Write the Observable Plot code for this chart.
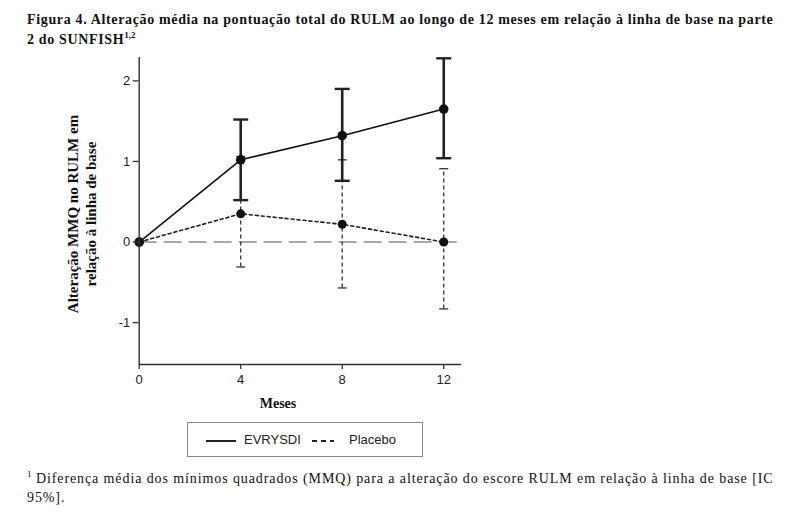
<!DOCTYPE html>
<html>
<head>
<meta charset="utf-8">
<script src="https://cdn.jsdelivr.net/npm/d3@7"></script>
<script src="https://cdn.jsdelivr.net/npm/@observablehq/plot@0.6"></script>
<style>
  html, body { margin: 0; padding: 0; background: #fff; }
  #page { position: relative; width: 799px; height: 513px; overflow: hidden; background: #fff; }
  #title { position: absolute; left: 27px; top: 10px; width: 772px; font: bold 14px "Liberation Serif", "DejaVu Serif", serif; letter-spacing: 0.65px; line-height: 20px; color: #111; white-space: nowrap; }
  #title sup { font-size: 9px; line-height: 0; letter-spacing: 0; }
  #chart { position: absolute; left: 0; top: 50px; }
  #ylabel { position: absolute; left: -48px; top: 196px; width: 260px; text-align: center; font: bold 15px "Liberation Serif", serif; line-height: 18px; color: #111; transform: rotate(-90deg); transform-origin: 50% 50%; white-space: nowrap; }
  #xlabel { position: absolute; left: 238px; top: 396px; width: 80px; text-align: center; font: bold 14px "Liberation Serif", serif; color: #111; }
  #legend { position: absolute; left: 187px; top: 422px; width: 236px; height: 35px; border: 1px solid #888; box-sizing: border-box; font: 13px "Liberation Sans", Arial, sans-serif; color: #222; }
  #legend .item { position: absolute; top: 9px; white-space: nowrap; }
  #legend svg { vertical-align: middle; }
  #foot { position: absolute; left: 27px; top: 469px; width: 772px; font: 14px "Liberation Serif", serif; letter-spacing: 0.9px; line-height: 19px; color: #111; white-space: nowrap; }
  #foot sup { font-size: 9px; line-height: 0; letter-spacing: 0; }
</style>
</head>
<body>
<div id="page">
  <div id="title">Figura 4. Alteração média na pontuação total do RULM ao longo de 12 meses em relação à linha de base na parte<br>2 do SUNFISH<sup>1,2</sup></div>
  <div id="chart"></div>
  <div id="ylabel">Alteração MMQ no RULM em<br>relação à linha de base</div>
  <div id="xlabel">Meses</div>
  <div id="legend"></div>
  <div id="foot"><sup>1</sup> Diferença média dos mínimos quadrados (MMQ) para a alteração do escore RULM em relação à linha de base [IC<br>95%].</div>
</div>
<script>
// ---- data ----
const months = [0, 4, 8, 12];
const evrysdiMean = [0, 1.02, 1.32, 1.65];
const evrysdiLow  = [null, 0.52, 0.76, 1.04];
const evrysdiHigh = [null, 1.52, 1.90, 2.28];
const placeboMean = [0, 0.35, 0.22, 0];
const placeboLow  = [null, -0.31, -0.57, -0.83];
const placeboHigh = [null, 1.06, 1.02, 0.91];
const seriesNames = ["EVRYSDI", "Placebo"];
const xTicks = [0, 4, 8, 12];
const yTicks = [-1, 0, 1, 2];
const xDomain = [0, 12.7];
const yDomain = [-1.52, 2.29];

const evrysdi = months.map((m, i) => ({month: m, mean: evrysdiMean[i], lo: evrysdiLow[i], hi: evrysdiHigh[i]}));
const placebo = months.map((m, i) => ({month: m, mean: placeboMean[i], lo: placeboLow[i], hi: placeboHigh[i]}));
const evrysdiCI = evrysdi.filter(d => d.lo != null);
const placeboCI = placebo.filter(d => d.lo != null);

// horizontal cap symbol
const cap = { draw(ctx, size) { const r = Math.sqrt(size / Math.PI); ctx.moveTo(-r, 0); ctx.lineTo(r, 0); } };
const plainFormat = d => String(d);

const chart = Plot.plot({
  width: 799,
  height: 365,
  marginLeft: 138.7,
  marginRight: 338,
  marginTop: 7,
  marginBottom: 51,
  style: { fontFamily: "'Liberation Sans', Arial, sans-serif", fontSize: "13px", color: "#222", background: "transparent" },
  x: { domain: xDomain },
  y: { domain: yDomain },
  marks: [
    Plot.ruleY([0], { stroke: "#555", strokeWidth: 1.2, strokeDasharray: "18,7" }),
    // placebo
    Plot.ruleX(placeboCI, { x: "month", y1: "lo", y2: "hi", stroke: "#333", strokeWidth: 1.3, strokeDasharray: "4,3" }),
    Plot.dot(placeboCI, { x: "month", y: "lo", symbol: cap, r: 4.5, stroke: "#333", strokeWidth: 1.3 }),
    Plot.dot(placeboCI, { x: "month", y: "hi", symbol: cap, r: 4.5, stroke: "#333", strokeWidth: 1.3 }),
    Plot.line(placebo, { x: "month", y: "mean", stroke: "#222", strokeWidth: 1.6, strokeDasharray: "3,3" }),
    Plot.dot(placebo, { x: "month", y: "mean", r: 4.5, fill: "#111", stroke: "none" }),
    // evrysdi
    Plot.ruleX(evrysdiCI, { x: "month", y1: "lo", y2: "hi", stroke: "#222", strokeWidth: 2.6 }),
    Plot.dot(evrysdiCI, { x: "month", y: "lo", symbol: cap, r: 7.5, stroke: "#222", strokeWidth: 2.4 }),
    Plot.dot(evrysdiCI, { x: "month", y: "hi", symbol: cap, r: 7.5, stroke: "#222", strokeWidth: 2.4 }),
    Plot.line(evrysdi, { x: "month", y: "mean", stroke: "#111", strokeWidth: 1.6 }),
    Plot.dot(evrysdi, { x: "month", y: "mean", r: 4.8, fill: "#111", stroke: "none" }),
    // axis lines
    Plot.ruleX([xDomain[0]], { stroke: "#333", strokeWidth: 1.4 }),
    Plot.ruleY([yDomain[0]], { stroke: "#333", strokeWidth: 1.4 }),
    // axes
    Plot.axisY({ ticks: yTicks, tickFormat: plainFormat, tickSize: 6, tickPadding: 3, label: null, stroke: "#333", strokeWidth: 1.3 }),
    Plot.axisX({ ticks: xTicks, tickFormat: plainFormat, tickSize: 5, tickPadding: 5, label: null, stroke: "#333", strokeWidth: 1.3 })
  ]
});
document.getElementById("chart").appendChild(chart);

// legend
const legend = document.getElementById("legend");
const dashes = [null, "5,4"];
const lefts = [18, 124];
seriesNames.forEach((name, i) => {
  const div = document.createElement("div");
  div.className = "item";
  div.style.left = lefts[i] + "px";
  const w = i === 0 ? 30 : 22;
  div.innerHTML = `<svg width="${w}" height="10"><line x1="0" y1="5" x2="${w}" y2="5" stroke="#222" stroke-width="2" ${dashes[i] ? `stroke-dasharray="${dashes[i]}"` : ""}/></svg><span style="margin-left:${i === 0 ? 8 : 15}px">${name}</span>`;
  legend.appendChild(div);
});
</script>
</body>
</html>
